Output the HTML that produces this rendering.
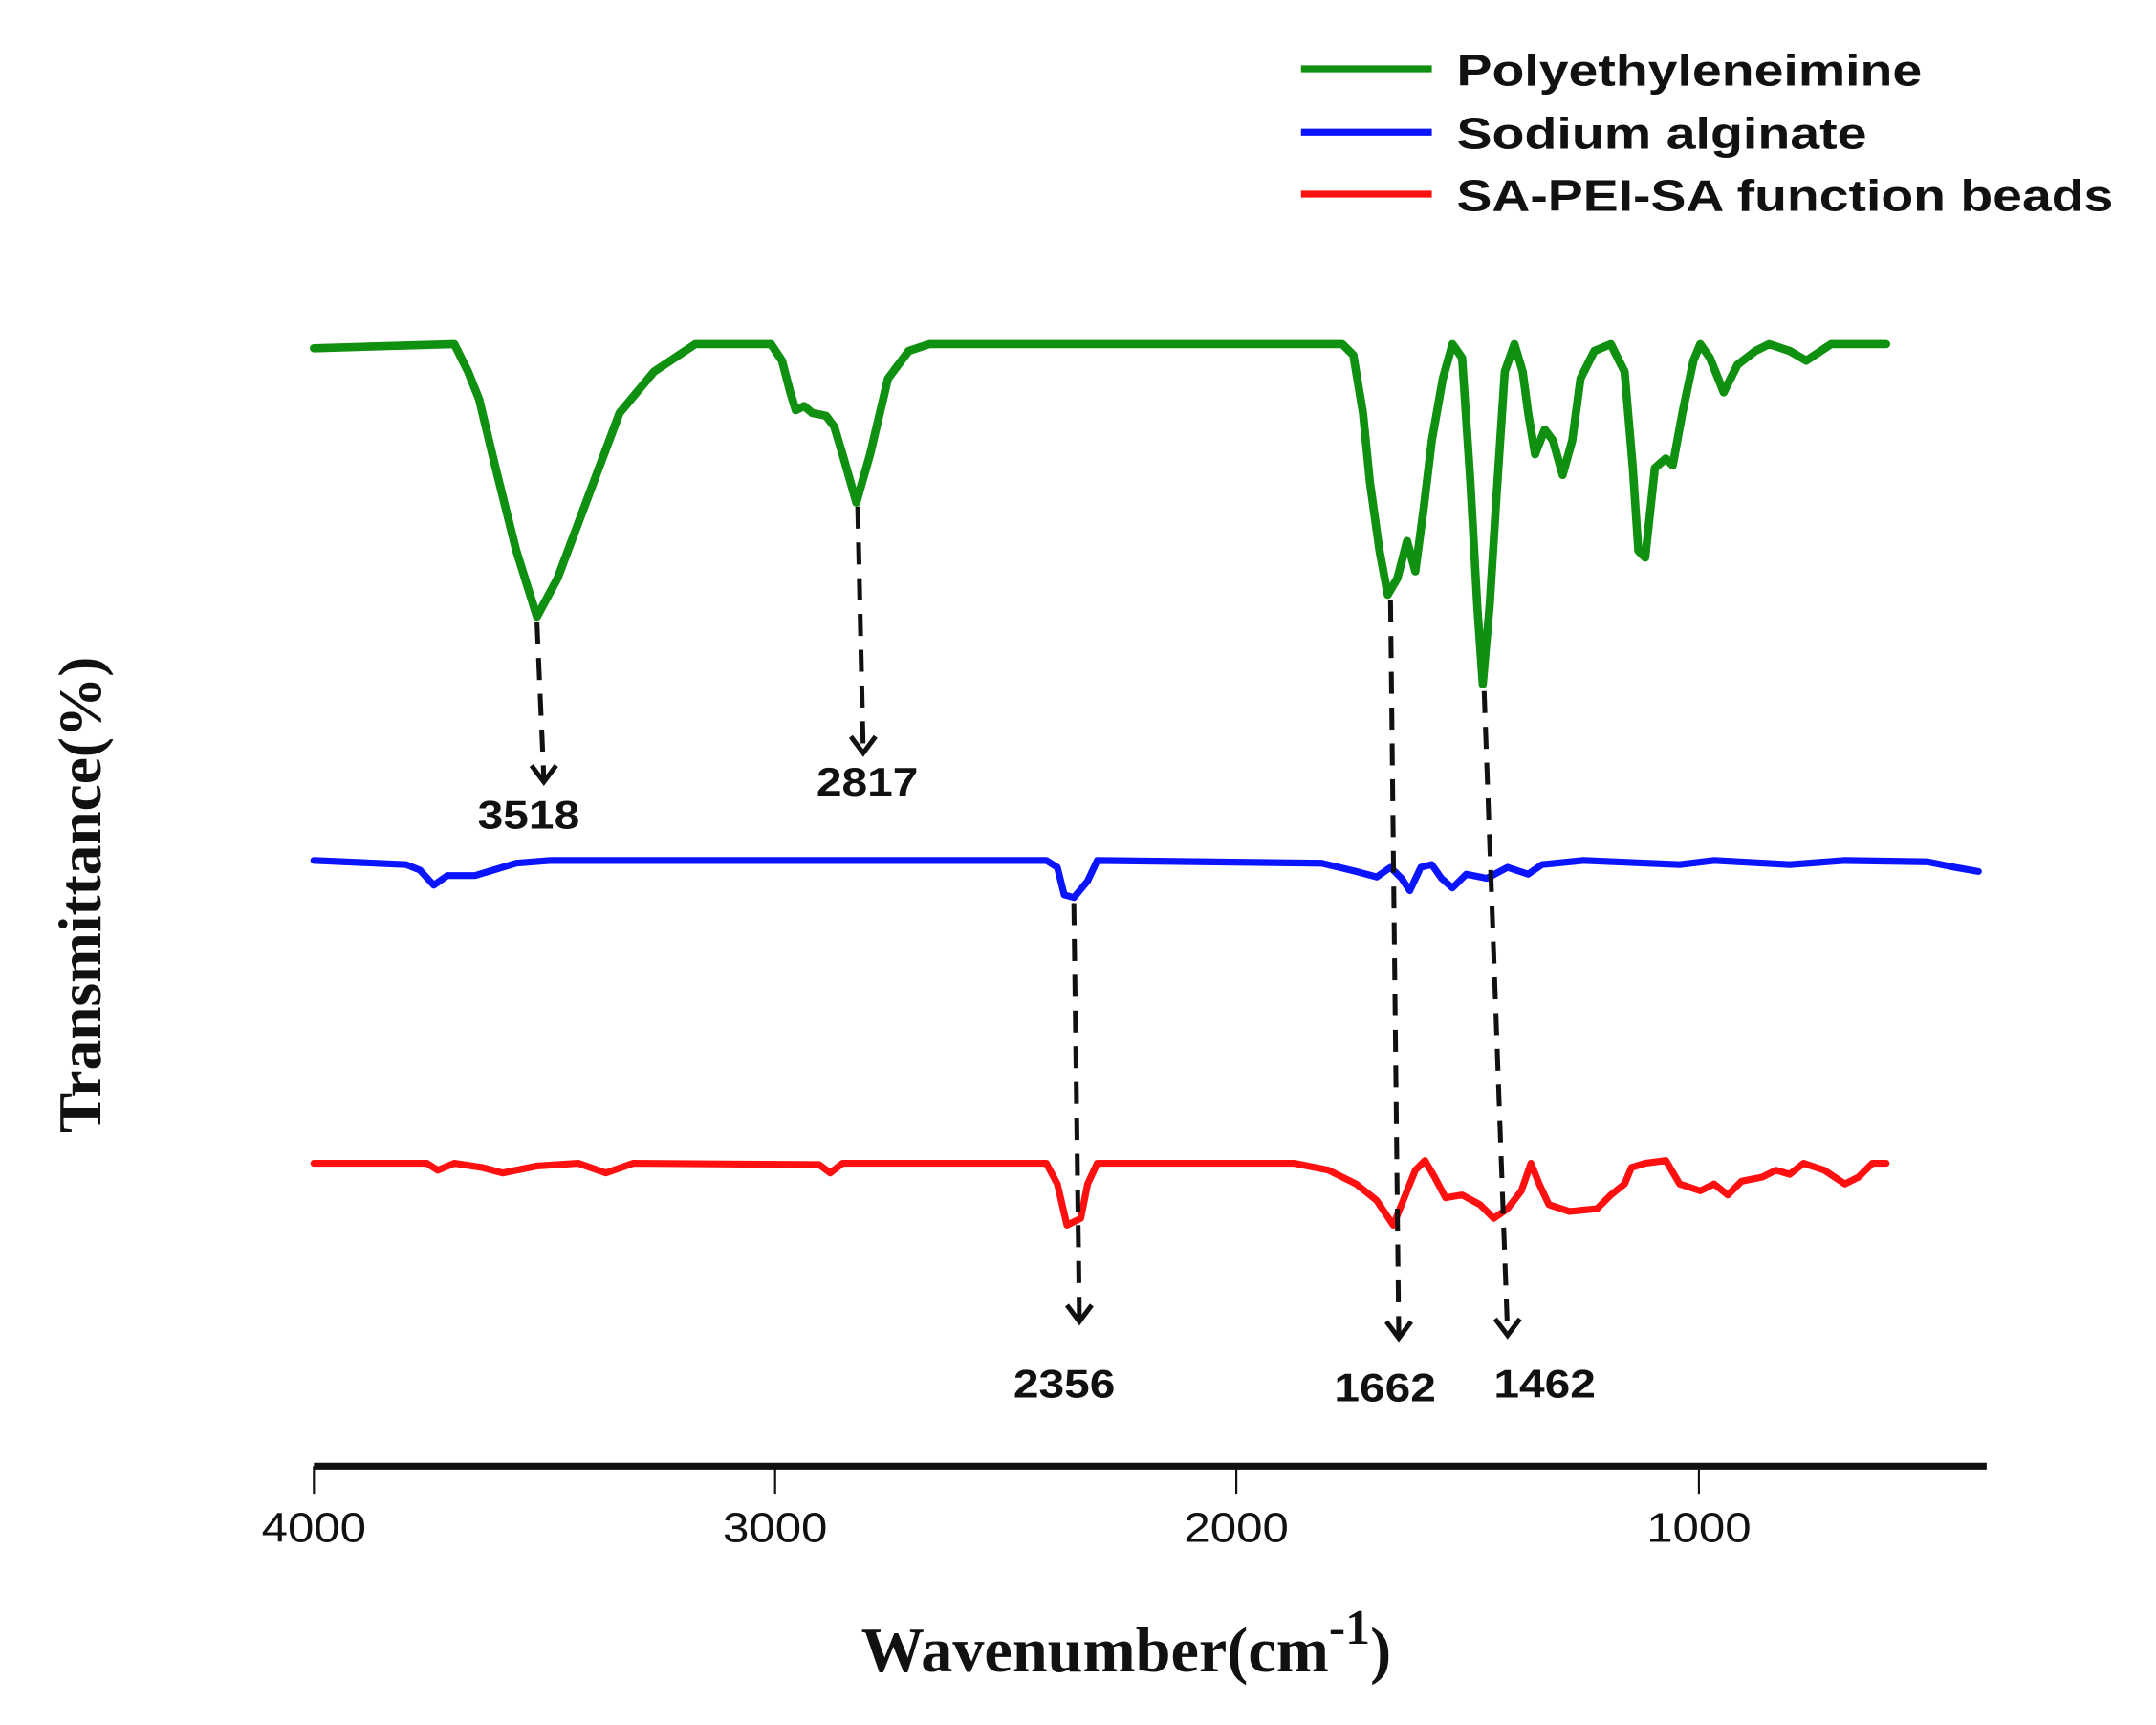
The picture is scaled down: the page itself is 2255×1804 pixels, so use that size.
<!DOCTYPE html>
<html><head><meta charset="utf-8"><style>
html,body{margin:0;padding:0;background:#fff;}
svg{display:block;}
</style></head><body>
<svg width="2255" height="1804" viewBox="0 0 1566 1253" preserveAspectRatio="none" xmlns="http://www.w3.org/2000/svg">
<rect width="1566" height="1253" fill="#fff"/>
<g stroke-width="5" fill="none">
<line x1="945" y1="50" x2="1040" y2="50" stroke="#109010"/>
<line x1="945" y1="96" x2="1040" y2="96" stroke="#0a14ff"/>
<line x1="945" y1="141" x2="1040" y2="141" stroke="#ff1010"/>
</g>
<g font-family="Liberation Sans, sans-serif" font-weight="bold" font-size="32" fill="#111">
<text x="1058" y="62" textLength="338" lengthAdjust="spacingAndGlyphs">Polyethyleneimine</text>
<text x="1058" y="108" textLength="298" lengthAdjust="spacingAndGlyphs">Sodium alginate</text>
<text x="1058" y="153" textLength="477" lengthAdjust="spacingAndGlyphs">SA-PEI-SA function beads</text>
</g>
<g fill="none" stroke-linejoin="round" stroke-linecap="round">
<polyline stroke="#109010" stroke-width="6" points="228,253 330,250 340,270 348,290 360,340 375,400 390,448 405,420 420,380 435,340 450,300 475,270 505,250 560,250 568,262 574,285 578,298 584,295 590,300 600,302 606,310 612,330 622,365 632,330 645,275 660,255 675,250 975,250 983,258 990,300 995,350 1002,400 1008,432 1015,420 1022,393 1028,415 1034,370 1040,320 1048,275 1055,250 1062,260 1068,350 1073,440 1077,497 1082,440 1087,360 1093,270 1100,250 1106,270 1110,300 1115,330 1122,312 1128,320 1135,345 1142,320 1148,275 1158,255 1170,250 1180,270 1186,340 1190,400 1195,405 1202,340 1210,333 1215,338 1222,300 1230,262 1235,250 1242,260 1252,285 1262,265 1275,255 1285,250 1300,255 1312,262 1330,250 1370,250"/>
<polyline stroke="#0a14ff" stroke-width="5" points="228,625 295,628 305,632 315,643 325,636 345,636 375,627 400,625 760,625 768,630 773,650 780,652 790,640 797,625 960,627 985,633 1000,637 1010,630 1018,638 1024,647 1032,630 1040,628 1047,638 1055,645 1065,635 1080,638 1095,630 1110,635 1120,628 1150,625 1220,628 1245,625 1300,628 1340,625 1400,626 1420,630 1437,633"/>
<polyline stroke="#ff1010" stroke-width="5" points="228,845 310,845 318,850 330,845 350,848 365,852 390,847 420,845 440,852 460,845 595,846 603,852 612,845 760,845 768,860 775,890 785,885 790,860 797,845 940,845 965,850 985,860 1000,872 1012,890 1020,870 1028,850 1035,843 1042,855 1050,870 1062,868 1075,875 1085,885 1095,878 1105,865 1112,845 1118,860 1125,875 1140,880 1160,878 1170,868 1180,860 1185,848 1195,845 1210,843 1220,860 1235,865 1245,860 1255,868 1265,858 1280,855 1290,850 1300,853 1310,845 1325,850 1340,860 1350,855 1360,845 1370,845"/>
</g>
<g stroke="#111" stroke-width="3.5" fill="none" stroke-dasharray="16,10">
<line x1="390" y1="452" x2="395" y2="565"/>
<line x1="623" y1="368" x2="627" y2="545"/>
<line x1="780" y1="656" x2="784" y2="958"/>
<line x1="1010" y1="436" x2="1016" y2="970"/>
<line x1="1078" y1="502" x2="1095" y2="968"/>
</g>
<g stroke="#111" stroke-width="3.5" fill="none">
<polyline points="386,556 395,568 404,556"/>
<polyline points="618,535 627,547 636,535"/>
<polyline points="775,948 784,960 793,948"/>
<polyline points="1007,960 1016,972 1025,960"/>
<polyline points="1086,958 1095,970 1104,958"/>
</g>
<g font-family="Liberation Sans, sans-serif" font-weight="bold" font-size="29" fill="#111" text-anchor="middle">
<text x="384" y="602" textLength="74" lengthAdjust="spacingAndGlyphs">3518</text>
<text x="630" y="578" textLength="74" lengthAdjust="spacingAndGlyphs">2817</text>
<text x="773" y="1015" textLength="74" lengthAdjust="spacingAndGlyphs">2356</text>
<text x="1006" y="1018" textLength="74" lengthAdjust="spacingAndGlyphs">1662</text>
<text x="1122" y="1015" textLength="74" lengthAdjust="spacingAndGlyphs">1462</text>
</g>
<line x1="228" y1="1065" x2="1443" y2="1065" stroke="#111" stroke-width="5"/>
<g stroke="#111" stroke-width="1.5">
<line x1="228" y1="1065" x2="228" y2="1085"/>
<line x1="563" y1="1065" x2="563" y2="1085"/>
<line x1="898" y1="1065" x2="898" y2="1085"/>
<line x1="1234" y1="1065" x2="1234" y2="1085"/>
</g>
<g font-family="Liberation Sans, sans-serif" font-size="30" fill="#111" text-anchor="middle">
<text x="228" y="1120" textLength="76" lengthAdjust="spacingAndGlyphs">4000</text>
<text x="563" y="1120" textLength="76" lengthAdjust="spacingAndGlyphs">3000</text>
<text x="898" y="1120" textLength="76" lengthAdjust="spacingAndGlyphs">2000</text>
<text x="1234" y="1120" textLength="76" lengthAdjust="spacingAndGlyphs">1000</text>
</g>
<text x="818" y="1214" font-family="Liberation Serif, serif" font-weight="bold" font-size="46" fill="#111" text-anchor="middle">Wavenumber(cm<tspan dy="-20" font-size="36">-1</tspan><tspan dy="20">)</tspan></text>
<text transform="translate(73,650) rotate(-90)" font-family="Liberation Serif, serif" font-weight="bold" font-size="44" fill="#111" text-anchor="middle">Transmittance(%)</text>
</svg>
</body></html>
